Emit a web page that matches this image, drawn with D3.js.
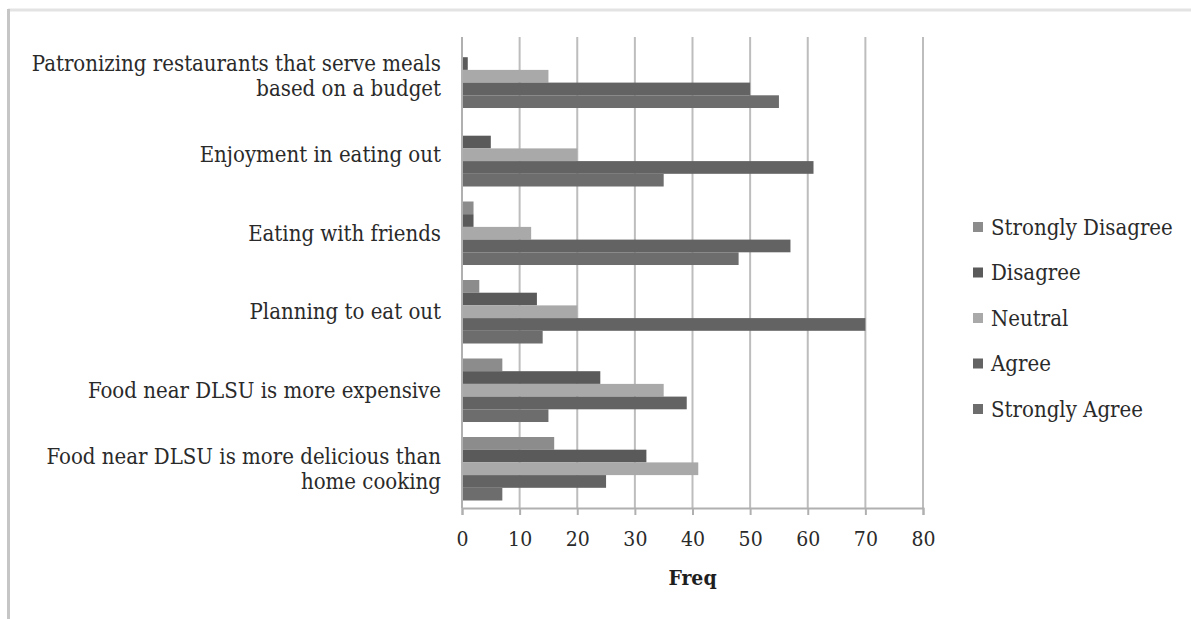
<!DOCTYPE html>
<html>
<head>
<meta charset="utf-8">
<script src="https://cdn.jsdelivr.net/npm/d3@7"></script>
<style>
  html, body { margin: 0; padding: 0; background: #fff; }
  svg { display: block; }
</style>
</head>
<body>
<svg id="chart" width="1191" height="619"></svg>
<script>
// ---- data ----
const categories = [
  ["Patronizing restaurants that serve meals", "based on a budget"],
  ["Enjoyment in eating out"],
  ["Eating with friends"],
  ["Planning to eat out"],
  ["Food near DLSU is more expensive"],
  ["Food near DLSU is more delicious than", "home cooking"]
];
const seriesNames = ["Strongly Disagree", "Disagree", "Neutral", "Agree", "Strongly Agree"];
const stronglyDisagree = [0, 0, 2, 3, 7, 16];
const disagree         = [1, 5, 2, 13, 24, 32];
const neutral          = [15, 20, 12, 20, 35, 41];
const agree            = [50, 61, 57, 70, 39, 25];
const stronglyAgree    = [55, 35, 48, 14, 15, 7];
const xTicks = [0, 10, 20, 30, 40, 50, 60, 70, 80];
const seriesColors = ["#8c8c8c", "#5a5a5a", "#a9a9a9", "#636363", "#6d6d6d"];

const seriesValues = [stronglyDisagree, disagree, neutral, agree, stronglyAgree];

(function () {
// ---- layout ----
const svg = d3.select("#chart");
const font = "'DejaVu Serif Condensed', 'DejaVu Serif', serif";
const pLeft = 462, pRight = 923, pTop = 37, pBottom = 508;

// frame
svg.append("line").attr("x1", 8).attr("x2", 1191).attr("y1", 10).attr("y2", 10)
  .attr("stroke", "#e3e3e3").attr("stroke-width", 3);
svg.append("line").attr("x1", 8.5).attr("x2", 8.5).attr("y1", 9).attr("y2", 619)
  .attr("stroke", "#c6c6c6").attr("stroke-width", 3);

const catKeys = categories.map(c => c.join(" "));
const x = d3.scaleLinear().domain([0, 80]).range([pLeft, pRight]);
const y = d3.scaleBand().domain(catKeys).range([pTop, pBottom])
  .paddingInner(0.191).paddingOuter(0.0955);
const ys = d3.scaleBand().domain(seriesNames).range([0, y.bandwidth()]);

// gridlines
svg.append("g").selectAll("line").data(xTicks.slice(1)).join("line")
  .attr("x1", d => x(d)).attr("x2", d => x(d))
  .attr("y1", pTop).attr("y2", pBottom)
  .attr("stroke", "#bdbdbd").attr("stroke-width", 2);

// bars
const g = svg.append("g");
catKeys.forEach((c, i) => {
  seriesNames.forEach((s, j) => {
    const v = seriesValues[j][i];
    if (v <= 0) return;
    g.append("rect")
      .attr("x", x(0))
      .attr("y", y(c) + ys(s))
      .attr("width", x(v) - x(0))
      .attr("height", ys.bandwidth())
      .attr("fill", seriesColors[j]);
  });
});

// left axis line
svg.append("line").attr("x1", x(0)).attr("x2", x(0)).attr("y1", pTop).attr("y2", pBottom)
  .attr("stroke", "#b0b0b0").attr("stroke-width", 2);

// x axis
const xAxis = svg.append("g").attr("transform", `translate(0,${pBottom})`)
  .call(d3.axisBottom(x).tickValues(xTicks).tickFormat(d3.format("d")).tickSize(7).tickPadding(16));
xAxis.select(".domain").attr("stroke", "#b0b0b0").attr("stroke-width", 2);
xAxis.selectAll(".tick line").attr("stroke", "#b0b0b0").attr("stroke-width", 2);
xAxis.selectAll(".tick text").attr("font-family", font).attr("font-size", 21).attr("fill", "#2a2a2a");

// axis title
svg.append("text").attr("x", (pLeft + pRight) / 2).attr("y", 585)
  .attr("text-anchor", "middle").attr("font-family", font).attr("font-weight", "bold")
  .attr("font-size", 21).attr("fill", "#1e1e1e").text("Freq");

// category labels
categories.forEach((lines, i) => {
  const cy = y(catKeys[i]) + y.bandwidth() / 2;
  const lh = 25;
  const t = svg.append("text").attr("text-anchor", "end")
    .attr("font-family", font).attr("font-size", 22).attr("fill", "#2a2a2a");
  lines.forEach((ln, k) => {
    t.append("tspan").attr("x", 441)
      .attr("y", cy + (k - (lines.length - 1) / 2) * lh)
      .attr("dy", "0.35em").text(ln);
  });
});

// legend
const legend = svg.append("g");
seriesNames.forEach((s, j) => {
  const ly = 227 + j * 45.5;
  legend.append("rect").attr("x", 973).attr("y", ly - 5).attr("width", 10).attr("height", 10)
    .attr("fill", seriesColors[j]);
  legend.append("text").attr("x", 991).attr("y", ly).attr("dy", "0.35em")
    .attr("font-family", font).attr("font-size", 22).attr("fill", "#2a2a2a").text(s);
});
})();
</script>
</body>
</html>
